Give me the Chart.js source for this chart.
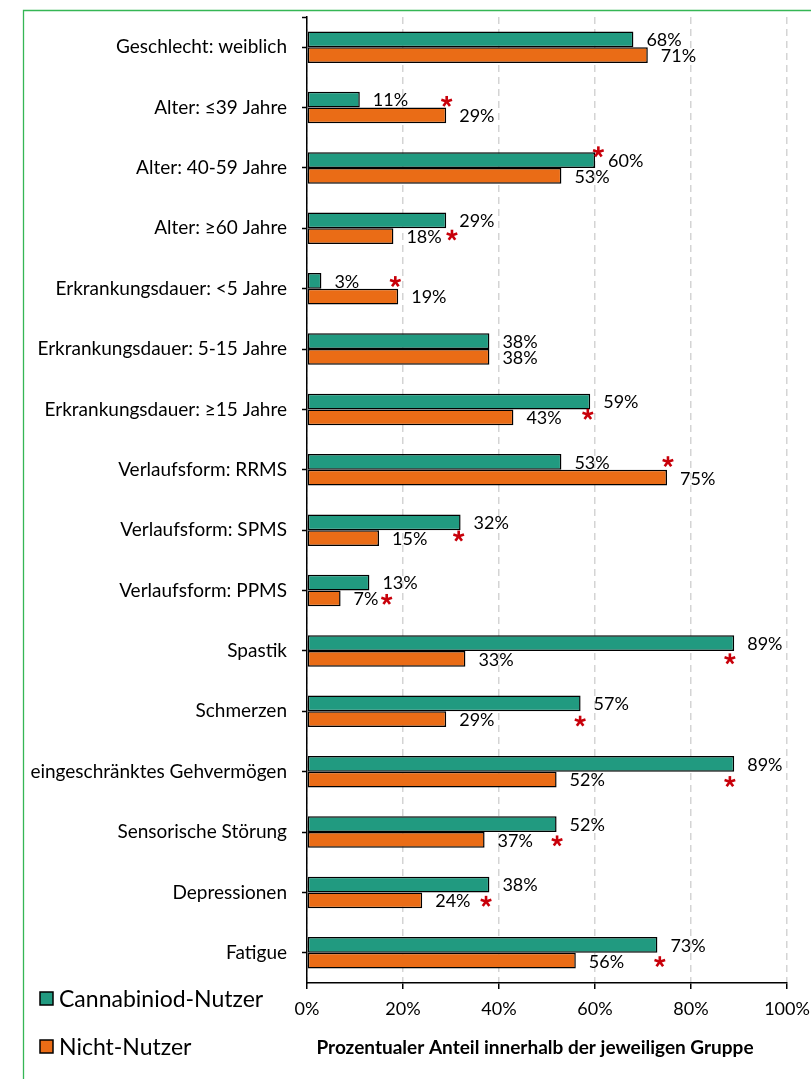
<!DOCTYPE html>
<html><head><meta charset="utf-8">
<script src="https://cdn.jsdelivr.net/npm/chart.js@4/dist/chart.umd.min.js"></script>
<style>html,body{margin:0;padding:0;background:#fff;overflow:hidden;} #wrap{position:relative;width:811px;height:1079px;} canvas{display:block;}</style>
</head><body><div id="wrap"><canvas id="c" width="811" height="1079"></canvas></div>
<script>
const categories = [
  'Geschlecht: weiblich',
  'Alter: ≤39 Jahre',
  'Alter: 40-59 Jahre',
  'Alter: ≥60 Jahre',
  'Erkrankungsdauer: <5 Jahre',
  'Erkrankungsdauer: 5-15 Jahre',
  'Erkrankungsdauer: ≥15 Jahre',
  'Verlaufsform: RRMS',
  'Verlaufsform: SPMS',
  'Verlaufsform: PPMS',
  'Spastik',
  'Schmerzen',
  'eingeschränktes Gehvermögen',
  'Sensorische Störung',
  'Depressionen',
  'Fatigue'
];
const cannabinoidUsers = [68, 11, 60, 29, 3, 38, 59, 53, 32, 13, 89, 57, 89, 52, 38, 73];
const nonUsers         = [71, 29, 53, 18, 19, 38, 43, 75, 15, 7, 33, 29, 52, 37, 24, 56];
const seriesNames = ['Cannabiniod-Nutzer', 'Nicht-Nutzer'];
const xTicks = [0, 20, 40, 60, 80, 100];
const axisTitle = 'Prozentualer Anteil innerhalb der jeweiligen Gruppe';
// significance markers (*): x position in % and vertical shift from row centre
const starX  = [null, 29.1, 60.7, 30.2, 18.4, null, 58.5, 75.2, 31.6, 16.6, 88.1, 56.9, 88.1, 52.1, 37.3, 73.5];
const starDy = [null, -6, -16, 7, -7, null, 5, -8, 6, 9, 8, 10, 10, 9, 9, 9];

const TEAL = '#219a80';
const ORANGE = '#ea6c16';
const FONT = "Lato, 'Open Sans', sans-serif";

function drawStar(ctx, x, y) {
  ctx.save();
  ctx.strokeStyle = '#c8000a';
  ctx.lineWidth = 2.6;
  ctx.lineCap = 'butt';
  const r = 5.6;
  for (let k = 0; k < 5; k++) {
    const a = -Math.PI / 2 + k * 2 * Math.PI / 5;
    ctx.beginPath();
    ctx.moveTo(x, y);
    ctx.lineTo(x + r * Math.cos(a), y + r * Math.sin(a));
    ctx.stroke();
  }
  ctx.restore();
}

const annotate = {
  id: 'annotate',
  beforeDraw(chart) {
    const ctx = chart.ctx;
    ctx.save();
    ctx.strokeStyle = '#35b655';
    ctx.lineWidth = 1.3;
    ctx.beginPath();
    ctx.moveTo(23.5, 1079);
    ctx.lineTo(23.5, 10.5);
    ctx.lineTo(811, 10.5);
    ctx.stroke();
    ctx.restore();
  },
  afterDatasetsDraw(chart) {
    const ctx = chart.ctx;
    ctx.save();
    ctx.font = '18px ' + FONT;
    ctx.fillStyle = '#000';
    ctx.textAlign = 'left';
    ctx.textBaseline = 'middle';
    chart.data.datasets.forEach((ds, di) => {
      const meta = chart.getDatasetMeta(di);
      meta.data.forEach((el, i) => {
        ctx.fillText(ds.data[i] + '%', el.x + 13, el.y + 1);
      });
    });
    const xs = chart.scales.x, ys = chart.scales.y;
    starX.forEach((v, i) => {
      if (v === null) return;
      drawStar(ctx, xs.getPixelForValue(v), ys.getPixelForValue(i) + starDy[i]);
    });
    // small hook at top of the category axis
    ctx.strokeStyle = '#000';
    ctx.lineWidth = 1.5;
    ctx.beginPath();
    ctx.moveTo(chart.chartArea.left - 5, chart.chartArea.top + 0.5);
    ctx.lineTo(chart.chartArea.left, chart.chartArea.top + 0.5);
    ctx.stroke();
    ctx.restore();
  },
  afterDraw(chart) {
    const ctx = chart.ctx;
    ctx.save();
    // legend
    const colors = [TEAL, ORANGE];
    const ly = [999, 1047];
    seriesNames.forEach((n, i) => {
      ctx.fillStyle = colors[i];
      ctx.fillRect(40, ly[i] - 7, 13, 13);
      ctx.strokeStyle = '#000';
      ctx.lineWidth = 1.5;
      ctx.strokeRect(40, ly[i] - 7, 13, 13);
      ctx.fillStyle = '#000';
      ctx.font = '23px ' + FONT;
      ctx.textAlign = 'left';
      ctx.textBaseline = 'middle';
      ctx.fillText(n, 59, ly[i] + 1);
    });
    // axis title
    ctx.font = 'bold 19px ' + FONT;
    ctx.textAlign = 'center';
    ctx.textBaseline = 'middle';
    ctx.fillText(axisTitle, 535, 1048);
    ctx.restore();
  }
};

function build() {
  new Chart(document.getElementById('c'), {
    type: 'bar',
    data: {
      labels: categories,
      datasets: [
        { label: seriesNames[0], data: cannabinoidUsers, backgroundColor: TEAL },
        { label: seriesNames[1], data: nonUsers, backgroundColor: ORANGE }
      ]
    },
    options: {
      indexAxis: 'y',
      responsive: false,
      animation: false,
      devicePixelRatio: 1,
      layout: { padding: { top: 17, right: 24, left: 0, bottom: 0 } },
      datasets: {
        bar: {
          barPercentage: 1,
          categoryPercentage: 0.523,
          borderColor: '#000',
          borderWidth: 1.5,
          borderSkipped: false
        }
      },
      plugins: { legend: { display: false }, tooltip: { enabled: false } },
      scales: {
        x: {
          type: 'linear',
          min: 0, max: 100,
          afterBuildTicks: s => { s.ticks = xTicks.map(v => ({ value: v })); },
          ticks: { callback: v => v + '%', color: '#000', font: { family: FONT, size: 18 }, padding: 9, maxRotation: 0 },
          grid: { color: '#d4d4d4', lineWidth: 1.5, tickColor: '#000', tickLength: 6, tickWidth: 1.5, tickBorderDash: [] },
          border: { display: true, color: '#000', width: 1.5, dash: [7, 5] },
          afterFit: s => { s.height = 96; s.paddingLeft = 0; s.paddingRight = 0; }
        },
        y: {
          type: 'category',
          ticks: { color: '#000', font: { family: FONT, size: 19 }, padding: 15, autoSkip: false },
          grid: { offset: false, drawOnChartArea: false, tickLength: 5, tickColor: '#000', tickWidth: 1.5 },
          border: { display: true, color: '#000', width: 1.5 },
          afterFit: s => { s.width = 307; s.paddingTop = 0; s.paddingBottom = 0; }
        }
      }
    },
    plugins: [annotate]
  });
}
(document.fonts && document.fonts.load ? Promise.all([
  document.fonts.load('18px Lato'), document.fonts.load('bold 16px Lato')
]).catch(() => {}) : Promise.resolve()).then(build);
</script>
</body></html>
